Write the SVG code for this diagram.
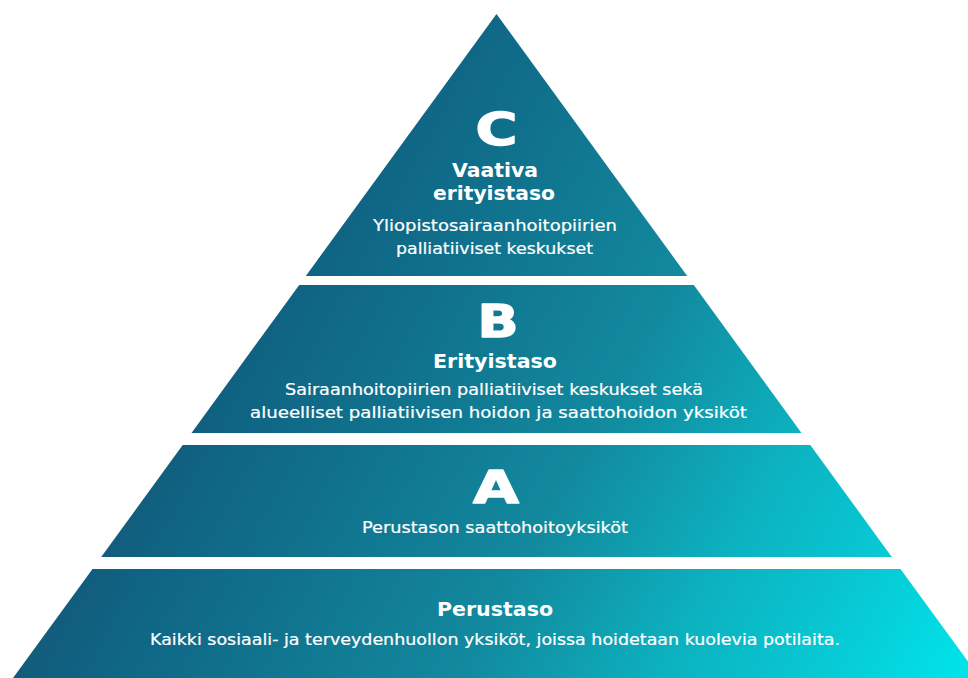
<svg xmlns="http://www.w3.org/2000/svg" width="968" height="678" viewBox="0 0 968 678">
  <defs>
    <!-- one shared diagonal gradient so the tiers read as a single pyramid -->
    <linearGradient id="tierFill" gradientUnits="userSpaceOnUse" x1="100" y1="200" x2="968" y2="678">
      <stop offset="0" stop-color="#155577"/>
      <stop offset="0.15" stop-color="#135a7a"/>
      <stop offset="0.22" stop-color="#0f6383"/>
      <stop offset="0.55" stop-color="#12899e"/>
      <stop offset="0.73" stop-color="#0cb2c0"/>
      <stop offset="0.87" stop-color="#07cad5"/>
      <stop offset="1" stop-color="#00e4ea"/>
    </linearGradient>
    <style>
      .tier { fill: url(#tierFill); }
      .letter { font-family: "DejaVu Sans", "Open Sans", sans-serif; font-weight: 700; font-size: 45px; fill: #ffffff; stroke: #ffffff; stroke-width: 1.4px; stroke-linejoin: round; text-anchor: middle; }
      .head { font-family: "DejaVu Sans", "Open Sans", sans-serif; font-weight: 700; font-size: 19.5px; fill: #ffffff; text-anchor: middle; }
      .body { font-family: "DejaVu Sans", "Open Sans", sans-serif; font-weight: 400; font-size: 15px; fill: #ffffff; stroke: #ffffff; stroke-width: 0.2px; text-anchor: middle; }
    </style>
  </defs>

  <rect width="968" height="678" fill="#ffffff"/>

  <!-- Level C: apex triangle -->
  <g id="level-c">
    <polygon class="tier" points="496.5,14 687.2,276 305.8,276"/>
    <text class="letter" x="496.5" y="145" textLength="42" lengthAdjust="spacingAndGlyphs">C</text>
    <text class="head" x="495" y="177" textLength="86" lengthAdjust="spacingAndGlyphs">Vaativa</text>
    <text class="head" x="494" y="200" textLength="122" lengthAdjust="spacingAndGlyphs">erityistaso</text>
    <text class="body" x="495" y="231" textLength="244" lengthAdjust="spacingAndGlyphs">Yliopistosairaanhoitopiirien</text>
    <text class="body" x="494.5" y="254" textLength="197" lengthAdjust="spacingAndGlyphs">palliatiiviset keskukset</text>
  </g>

  <!-- Level B -->
  <g id="level-b">
    <polygon class="tier" points="299.2,285 693.8,285 801.5,433 191.5,433"/>
    <text class="letter" x="498" y="337" textLength="41" lengthAdjust="spacingAndGlyphs">B</text>
    <text class="head" x="495" y="368" textLength="124" lengthAdjust="spacingAndGlyphs">Erityistaso</text>
    <text class="body" x="494" y="395" textLength="418" lengthAdjust="spacingAndGlyphs">Sairaanhoitopiirien palliatiiviset keskukset sekä</text>
    <text class="body" x="498.5" y="418" textLength="497" lengthAdjust="spacingAndGlyphs">alueelliset palliatiivisen hoidon ja saattohoidon yksiköt</text>
  </g>

  <!-- Level A -->
  <g id="level-a">
    <polygon class="tier" points="182.7,445 810.3,445 891.8,557 101.2,557"/>
    <text class="letter" x="496" y="503" textLength="46" lengthAdjust="spacingAndGlyphs">A</text>
    <text class="body" x="495" y="533" textLength="266" lengthAdjust="spacingAndGlyphs">Perustason saattohoitoyksiköt</text>
  </g>

  <!-- Base level -->
  <g id="perustaso">
    <polygon class="tier" points="92.5,569 900.5,569 980,678 13,678"/>
    <text class="head" x="495" y="616" textLength="116" lengthAdjust="spacingAndGlyphs">Perustaso</text>
    <text class="body" x="495" y="645" textLength="690" lengthAdjust="spacingAndGlyphs">Kaikki sosiaali- ja terveydenhuollon yksiköt, joissa hoidetaan kuolevia potilaita.</text>
  </g>
</svg>
